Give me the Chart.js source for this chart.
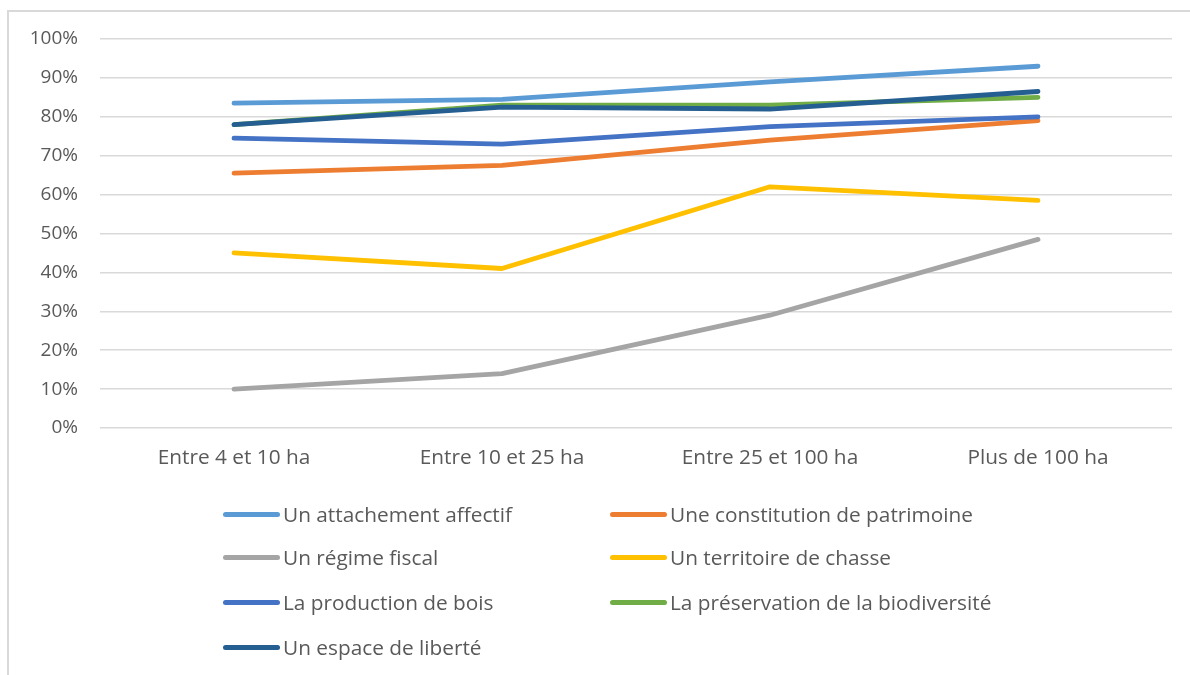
<!DOCTYPE html>
<html lang="fr">
<head>
<meta charset="utf-8">
<script src="https://cdn.jsdelivr.net/npm/chart.js@4/dist/chart.umd.min.js"></script>
<style>
    html, body { margin: 0; padding: 0; background: #fff; }
    body { width: 1190px; height: 675px; position: relative; overflow: hidden; font-family: "Open Sans", sans-serif; }
    .frame { position: absolute; left: 7px; top: 10px; width: 1300px; height: 800px;
             border-left: 2px solid #d9d9d9; border-top: 2px solid #d9d9d9; }
    #chartWrap { position: absolute; left: 0; top: 0; width: 1190px; height: 675px; }
    #legend { position: absolute; left: 0; top: 0; width: 1190px; height: 675px; pointer-events: none; }
    .item { position: absolute; display: flex; align-items: center; height: 30px; color: #595959; font-size: 20.8px; white-space: nowrap; }
    .swatch { width: 57px; height: 5px; border-radius: 3px; margin-right: 3px; }
</style>
</head>
<body>
<div class="frame"></div>
<div id="chartWrap"><canvas id="lineChart" width="1190" height="675"></canvas></div>
<div id="legend"></div>
<script>
    // --- Data ---
    const categories = ['Entre 4 et 10 ha', 'Entre 10 et 25 ha', 'Entre 25 et 100 ha', 'Plus de 100 ha'];
    const seriesNames = [
        'Un attachement affectif',
        'Une constitution de patrimoine',
        'Un régime fiscal',
        'Un territoire de chasse',
        'La production de bois',
        'La préservation de la biodiversité',
        'Un espace de liberté'
    ];
    const attachement = [83.5, 84.5, 89, 93];
    const patrimoine = [65.5, 67.5, 74, 79];
    const fiscal = [10, 14, 29, 48.5];
    const chasse = [45, 41, 62, 58.5];
    const bois = [74.5, 73, 77.5, 80];
    const biodiversite = [78, 83, 83, 85];
    const liberte = [78, 82.5, 82, 86.5];
    const yTicks = [0, 10, 20, 30, 40, 50, 60, 70, 80, 90, 100];

    const seriesValues = [attachement, patrimoine, fiscal, chasse, bois, biodiversite, liberte];
    const seriesColors = ['#5B9BD5', '#ED7D31', '#A5A5A5', '#FFC000', '#4472C4', '#70AD47', '#255E91'];

    const textColor = '#595959';
    const gridColor = '#d9d9d9';
    const fontFamily = '"Open Sans", sans-serif';

    const datasets = seriesNames.map((name, i) => ({
        label: name,
        data: seriesValues[i],
        borderColor: seriesColors[i],
        backgroundColor: seriesColors[i],
        borderWidth: 4.8,
        borderCapStyle: 'round',
        borderJoinStyle: 'round',
        pointRadius: 0,
        tension: 0,
        fill: false,
        order: -i   // later series drawn on top, like the original
    }));

    const ctx = document.getElementById('lineChart').getContext('2d');
    const chart = new Chart(ctx, {
        type: 'line',
        data: { labels: categories, datasets: datasets },
        options: {
            responsive: false,
            animation: false,
            layout: { padding: { left: 0, right: 18, top: 39, bottom: 0 } },
            plugins: {
                legend: { display: false },
                tooltip: { enabled: false }
            },
            scales: {
                x: {
                    offset: true,
                    grid: { display: false, drawTicks: false },
                    border: { display: false },
                    ticks: { color: textColor, font: { family: fontFamily, size: 20.8 }, padding: 18, maxRotation: 0 },
                    afterFit: (scale) => { scale.height = 247; scale.paddingLeft = 0; scale.paddingRight = 0; }
                },
                y: {
                    min: 0,
                    max: 100,
                    afterBuildTicks: (scale) => { scale.ticks = yTicks.map(v => ({ value: v })); },
                    grid: { color: gridColor, lineWidth: 1.5, drawTicks: false },
                    border: { display: false },
                    ticks: {
                        color: textColor,
                        font: { family: fontFamily, size: 19 },
                        padding: 22,
                        callback: (v) => v + '%'
                    },
                    afterFit: (scale) => { scale.width = 100; }
                }
            }
        }
    });

    // --- HTML legend, two columns ---
    const legendEl = document.getElementById('legend');
    const colX = [223, 610];
    const rowY = [514, 557, 602, 647];
    chart.data.datasets.forEach((ds, i) => {
        const item = document.createElement('div');
        item.className = 'item';
        item.style.left = colX[i % 2] + 'px';
        item.style.top = (rowY[Math.floor(i / 2)] - 15) + 'px';
        const sw = document.createElement('span');
        sw.className = 'swatch';
        sw.style.background = ds.borderColor;
        const label = document.createElement('span');
        label.textContent = ds.label;
        item.appendChild(sw);
        item.appendChild(label);
        legendEl.appendChild(item);
    });
</script>
</body>
</html>
